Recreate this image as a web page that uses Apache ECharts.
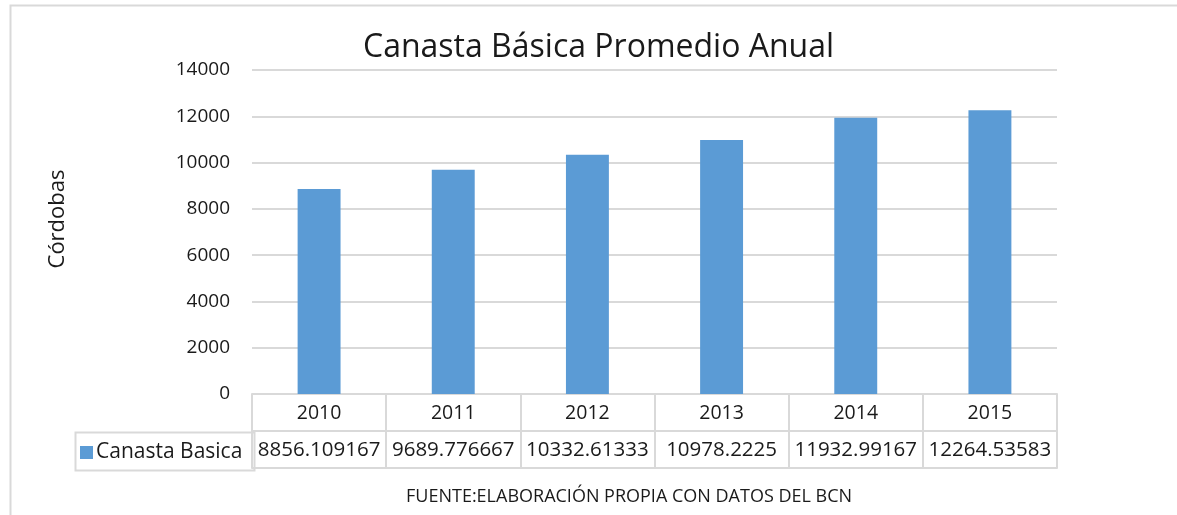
<!DOCTYPE html>
<html>
<head>
<meta charset="utf-8">
<style>
  html, body { margin: 0; padding: 0; background: #fff; }
  #main { width: 1177px; height: 515px; }
</style>
<script src="https://cdn.jsdelivr.net/npm/echarts@6/dist/echarts.min.js"></script>
</head>
<body>
<div id="main"></div>
<script>
// datos del grafico
const years = ["2010", "2011", "2012", "2013", "2014", "2015"];
const canasta = [8856.109167, 9689.776667, 10332.61333, 10978.2225, 11932.99167, 12264.53583];
const yTicks = [0, 2000, 4000, 6000, 8000, 10000, 12000, 14000];

const font = "Open Sans";
const gridColor = "#d9d9d9";
const txt = "#1a1a1a";

let chart = echarts.init(document.getElementById("main"));
let option = {
  backgroundColor: "#fff",
  animation: false,
  textStyle: { fontFamily: font },
  title: {
    text: "Canasta Básica Promedio Anual",
    left: 358,
    top: 27,
    textStyle: { fontFamily: font, fontSize: 32, fontWeight: "normal", color: txt }
  },
  graphic: [
    // borde exterior
    { type: "rect", left: 8, top: 3, shape: { width: 1300, height: 600 },
      style: { fill: null, stroke: gridColor, lineWidth: 2 }, silent: true },
    // celda de la leyenda
    { type: "rect", left: 73, top: 430, shape: { width: 179, height: 38 },
      style: { fill: null, stroke: gridColor, lineWidth: 2 }, silent: true },
    { type: "text", x: 58, y: 219, rotation: Math.PI / 2,
      style: { text: "Córdobas", fontFamily: font, fontSize: 22, fill: txt, align: "center", verticalAlign: "middle" } },
    { type: "text", left: 406, top: 488,
      style: { text: "FUENTE:ELABORACIÓN PROPIA CON DATOS DEL BCN", fontFamily: font, fontSize: 18, fill: txt } }
  ],
  legend: {
    left: 75,
    top: 437,
    icon: "rect",
    itemWidth: 13,
    itemHeight: 13,
    itemGap: 6,
    textStyle: { fontFamily: font, fontSize: 21, color: txt, padding: [0, 0, 0, -2] },
    data: ["Canasta Basica"]
  },
  grid: { left: 252, right: 120, top: 70, bottom: 121 },
  xAxis: [
    {
      type: "category",
      data: years,
      position: "bottom",
      axisLine: { lineStyle: { color: gridColor, width: 2 } },
      axisTick: { show: true, length: 74, lineStyle: { color: gridColor, width: 2 } },
      axisLabel: { fontFamily: font, fontSize: 19.5, color: txt, margin: 9, interval: 0 }
    },
    {
      type: "category",
      data: years,
      position: "bottom",
      offset: 37,
      axisLine: { lineStyle: { color: gridColor, width: 2 } },
      axisTick: { show: false },
      axisLabel: {
        fontFamily: font, fontSize: 20.5, color: txt, margin: 9, interval: 0, hideOverlap: false,
        formatter: function (v, i) { return String(canasta[i]); }
      }
    },
    {
      type: "category",
      data: years,
      position: "bottom",
      offset: 74,
      axisLine: { lineStyle: { color: gridColor, width: 2 } },
      axisTick: { show: false },
      axisLabel: { show: false }
    }
  ],
  yAxis: {
    type: "value",
    min: yTicks[0],
    max: yTicks[yTicks.length - 1],
    interval: 2000,
    axisLine: { show: false },
    axisTick: { show: false },
    axisLabel: { fontFamily: font, fontSize: 19, color: txt, margin: 22,
      formatter: function (v) { return String(v); } },
    splitLine: { lineStyle: { color: gridColor, width: 2 } }
  },
  series: [
    {
      name: "Canasta Basica",
      type: "bar",
      data: canasta,
      barWidth: "32%",
      itemStyle: { color: "#5b9bd5" }
    }
  ]
};
option && chart.setOption(option);
</script>
</body>
</html>
